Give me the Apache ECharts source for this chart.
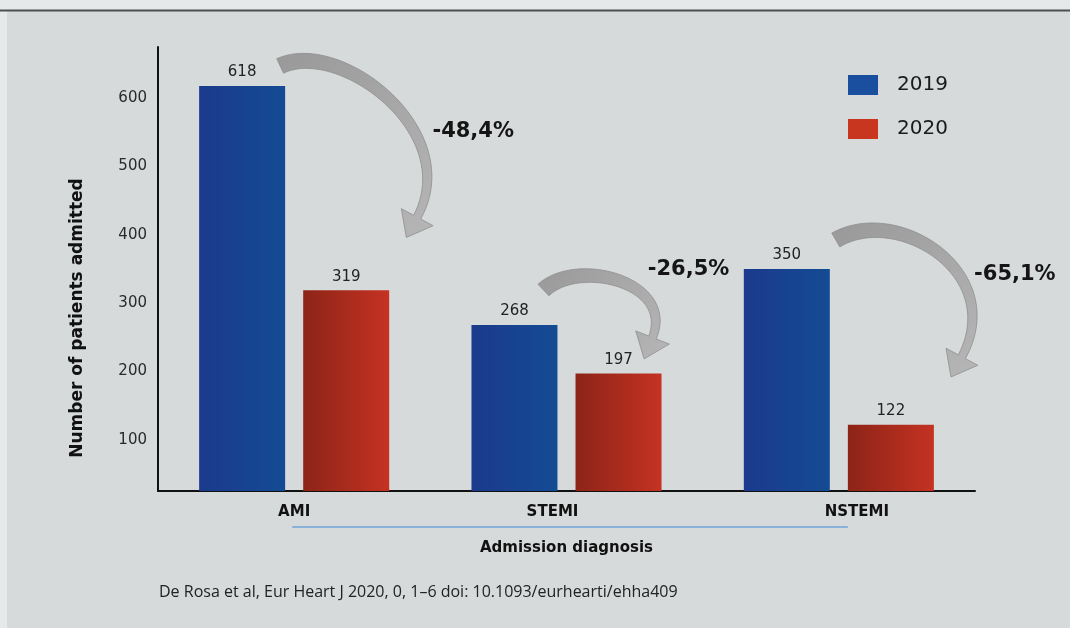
<!DOCTYPE html>
<html>
<head>
<meta charset="utf-8">
<script src="https://cdn.jsdelivr.net/npm/echarts@6/dist/echarts.min.js"></script>
<style>
  html, body { margin: 0; padding: 0; background: #e6e9ea; }
  #chart { width: 1070px; height: 628px; }
</style>
</head>
<body>
<div id="chart"></div>
<script>
// ---- data ----
const categories = ['AMI', 'STEMI', 'NSTEMI'];
const values2019 = [618, 268, 350];
const values2020 = [319, 197, 122];
const changeLabels = ['-48,4%', '-26,5%', '-65,1%'];
const seriesNames = ['2019', '2020'];
const yTickLabels = [100, 200, 300, 400, 500, 600];
const footerText = 'De Rosa et al, Eur Heart J 2020, 0, 1\u20136 doi: 10.1093/eurhearti/ehha409';

// ---- styling helpers ----
const labelShift = [0, -14, 18];           // horizontal nudge of category labels
// arrow geometry offsets (pixels) relative to bar top-right corners
const arrowStyle = [
  { p0: [-5, -20], p3: [28, -73], c1: [60, -28], c2: [46, -86], txt: [56, -86] },
  { p0: [-14, -35], p3: [-9, -36], c1: [34, -32], c2: [22, -56], txt: [36, -68] },
  { p0: [6, -29], p3: [28, -68], c1: [62, -36], c2: [45, -84], txt: [53, -82] }
];

const chart = echarts.init(document.getElementById('chart'), null, { renderer: 'canvas' });

const rich = {};
categories.forEach((c, i) => {
  const s = labelShift[i];
  rich['c' + i] = {
    fontFamily: 'DejaVu Sans', fontWeight: 'bold', fontSize: 15, color: '#111',
    padding: s >= 0 ? [0, 0, 0, 2 * s] : [0, -2 * s, 0, 0]
  };
});

const blueGrad = new echarts.graphic.LinearGradient(0, 0, 1, 0, [
  { offset: 0, color: '#1b3a8c' }, { offset: 1, color: '#144b93' }
]);
const redGrad = new echarts.graphic.LinearGradient(0, 0, 1, 0, [
  { offset: 0, color: '#8c2417' }, { offset: 1, color: '#c53222' }
]);

const option = {
  backgroundColor: '#d6dadb',
  animation: false,
  grid: { left: 158, right: 95, top: 47, bottom: 137, containLabel: false },
  legend: {
    orient: 'vertical', left: 843, top: 70, itemWidth: 30, itemHeight: 20, itemGap: 24,
    icon: 'rect',
    textStyle: { fontFamily: 'DejaVu Sans', fontSize: 20, color: '#1a1a1a', padding: [0, 0, 0, 14] },
    data: [
      { name: seriesNames[0], itemStyle: { color: '#1a4fa0' } },
      { name: seriesNames[1], itemStyle: { color: '#c8361f' } }
    ]
  },
  xAxis: {
    type: 'category',
    data: categories,
    axisTick: { show: false },
    axisLine: { show: true, lineStyle: { color: '#111', width: 2 } },
    axisLabel: {
      margin: 14,
      formatter: (v) => '{c' + categories.indexOf(v) + '|' + v + '}',
      rich: rich
    },
    name: 'Admission diagnosis',
    nameLocation: 'middle',
    nameGap: 50,
    nameTextStyle: { fontFamily: 'DejaVu Sans', fontWeight: 'bold', fontSize: 15, color: '#111' }
  },
  yAxis: {
    type: 'value',
    min: 25, max: 675, interval: 25,
    splitLine: { show: false },
    axisTick: { show: false },
    axisLine: { show: true, lineStyle: { color: '#111', width: 2 } },
    axisLabel: {
      margin: 11,
      fontFamily: 'DejaVu Sans', fontSize: 15, color: '#2a2a2a',
      formatter: (v) => (yTickLabels.indexOf(v) >= 0 ? String(v) : '')
    }
  },
  series: [
    {
      name: seriesNames[0], type: 'bar', data: values2019,
      barWidth: 86, barGap: '21%',
      itemStyle: { color: blueGrad },
      label: { show: true, position: 'top', distance: 6, fontFamily: 'DejaVu Sans', fontSize: 15, color: '#222' }
    },
    {
      name: seriesNames[1], type: 'bar', data: values2020,
      barWidth: 86,
      itemStyle: { color: redGrad },
      label: { show: true, position: 'top', distance: 6, fontFamily: 'DejaVu Sans', fontSize: 15, color: '#222' }
    }
  ]
};
chart.setOption(option);

// ---- annotations (arrows) anchored to the drawn bars ----
function barRect(seriesIndex, idx) {
  const data = chart.getModel().getSeriesByIndex(seriesIndex).getData();
  const l = data.getItemLayout(idx);
  const top = Math.min(l.y, l.y + l.height);
  return { left: l.x, right: l.x + l.width, top: top };
}
function bez(p0, p1, p2, p3, t) {
  const u = 1 - t;
  return [
    u*u*u*p0[0] + 3*u*u*t*p1[0] + 3*u*t*t*p2[0] + t*t*t*p3[0],
    u*u*u*p0[1] + 3*u*u*t*p1[1] + 3*u*t*t*p2[1] + t*t*t*p3[1]
  ];
}
function bezD(p0, p1, p2, p3, t) {
  const u = 1 - t;
  const dx = 3*u*u*(p1[0]-p0[0]) + 6*u*t*(p2[0]-p1[0]) + 3*t*t*(p3[0]-p2[0]);
  const dy = 3*u*u*(p1[1]-p0[1]) + 6*u*t*(p2[1]-p1[1]) + 3*t*t*(p3[1]-p2[1]);
  const L = Math.hypot(dx, dy) || 1;
  return [dx / L, dy / L];
}
function arrowPoints(p0, p1, p2, p3) {
  const n = 48, w0 = 16, w1 = 8, headLen = 23, headHalf = 18;
  const left = [], right = [];
  for (let i = 0; i <= n; i++) {
    const t = i / n;
    const p = bez(p0, p1, p2, p3, t);
    const d = bezD(p0, p1, p2, p3, t);
    const nx = -d[1], ny = d[0];
    const w = (w0 + (w1 - w0) * t) / 2;
    left.push([p[0] + nx * w, p[1] + ny * w]);
    right.push([p[0] - nx * w, p[1] - ny * w]);
  }
  const d = bezD(p0, p1, p2, p3, 1);
  const nx = -d[1], ny = d[0];
  const tip = [p3[0] + d[0] * headLen, p3[1] + d[1] * headLen];
  const hl = [p3[0] + nx * headHalf, p3[1] + ny * headHalf];
  const hr = [p3[0] - nx * headHalf, p3[1] - ny * headHalf];
  return left.concat([hl, tip, hr]).concat(right.reverse());
}

const graphics = [
  { type: 'rect', shape: { x: 0, y: 0, width: 1070, height: 10 }, style: { fill: '#e6e9ea' }, silent: true },
  { type: 'rect', shape: { x: 0, y: 10, width: 7, height: 618 }, style: { fill: '#e6e9ea' }, silent: true },
  { type: 'line', shape: { x1: 0, y1: 10.5, x2: 1070, y2: 10.5 }, style: { stroke: '#4f4f4f', lineWidth: 2 }, silent: true }
];

categories.forEach((c, i) => {
  const a = barRect(0, i), b = barRect(1, i);
  const s = arrowStyle[i];
  const A = [a.right, a.top], B = [b.right, b.top];
  const p0 = [A[0] + s.p0[0], A[1] + s.p0[1]];
  const p3 = [B[0] + s.p3[0], B[1] + s.p3[1]];
  const p1 = [p0[0] + s.c1[0], p0[1] + s.c1[1]];
  const p2 = [p3[0] + s.c2[0], p3[1] + s.c2[1]];
  graphics.push({
    type: 'polygon', z: 10, silent: true,
    shape: { points: arrowPoints(p0, p1, p2, p3) },
    style: {
      fill: new echarts.graphic.LinearGradient(0, 0, 1, 1, [
        { offset: 0, color: '#999999' }, { offset: 1, color: '#b6b6b6' }
      ]),
      stroke: '#8e8e8e', lineWidth: 0.8
    }
  });
  graphics.push({
    type: 'text', z: 11, silent: true,
    x: p3[0] + s.txt[0], y: p3[1] + s.txt[1],
    style: {
      text: changeLabels[i], fill: '#151515',
      font: 'bold 21px "DejaVu Sans"', textAlign: 'center', textVerticalAlign: 'middle'
    }
  });
});

// blue underline between category labels and axis name
const cx0 = chart.convertToPixel({ xAxisIndex: 0 }, categories[0]);
const cx2 = chart.convertToPixel({ xAxisIndex: 0 }, categories[2]);
graphics.push({
  type: 'line', silent: true,
  shape: { x1: cx0 - 2, y1: 527, x2: cx2 + 9, y2: 527 },
  style: { stroke: '#6fa3d8', lineWidth: 1.5 }
});

// y-axis title
graphics.push({
  type: 'text', silent: true, x: 78, y: 318, rotation: Math.PI / 2,
  style: {
    text: 'Number of patients admitted', fill: '#111',
    font: 'bold 17px "DejaVu Sans"', textAlign: 'center', textVerticalAlign: 'middle'
  }
});

// footer
graphics.push({
  type: 'text', silent: true, x: 159, y: 592,
  style: {
    text: footerText, fill: '#222',
    font: '16px "Open Sans"', textAlign: 'left', textVerticalAlign: 'middle'
  }
});

chart.setOption({ graphic: graphics });
</script>
</body>
</html>
